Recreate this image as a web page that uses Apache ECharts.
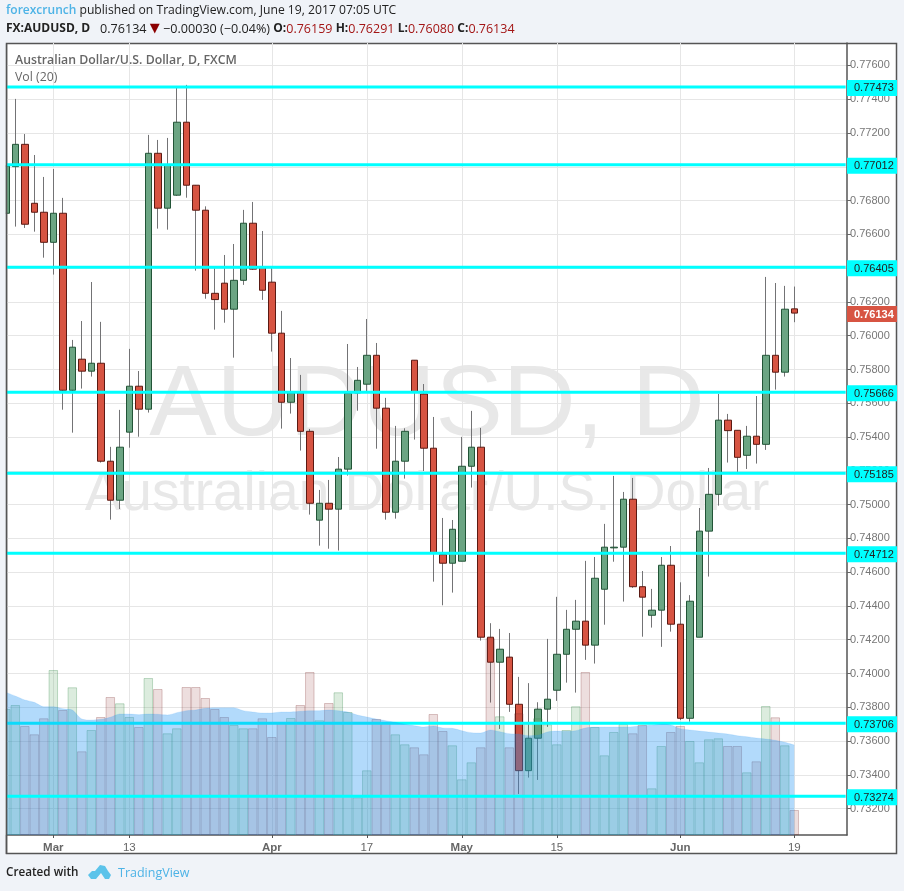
<!DOCTYPE html>
<html>
<head>
<meta charset="utf-8">
<style>html,body{margin:0;padding:0;background:#f0f3f8}#c{width:904px;height:891px}</style>
<script src="https://cdn.jsdelivr.net/npm/echarts@6/dist/echarts.min.js"></script>
</head>
<body>
<div id="c"></div>
<script>
const dates = ['Feb 22','Feb 23','Feb 24','Feb 27','Feb 28','Mar 1','Mar 2','Mar 3','Mar 6','Mar 7','Mar 8','Mar 9','Mar 10','Mar 13','Mar 14','Mar 15','Mar 16','Mar 17','Mar 20','Mar 21','Mar 22','Mar 23','Mar 24','Mar 27','Mar 28','Mar 29','Mar 30','Mar 31','Apr 3','Apr 4','Apr 5','Apr 6','Apr 7','Apr 10','Apr 11','Apr 12','Apr 13','Apr 14','Apr 17','Apr 18','Apr 19','Apr 20','Apr 21','Apr 24','Apr 25','Apr 26','Apr 27','Apr 28','May 1','May 2','May 3','May 4','May 5','May 8','May 9','May 10','May 11','May 12','May 15','May 16','May 17','May 18','May 19','May 22','May 23','May 24','May 25','May 26','May 29','May 30','May 31','Jun 1','Jun 2','Jun 5','Jun 6','Jun 7','Jun 8','Jun 9','Jun 12','Jun 13','Jun 14','Jun 15','Jun 16','Jun 19'];
const opens = [.76725,.77001,.77133,.76784,.76731,.76553,.76725,.75677,.75861,.7579,.75837,.75257,.75026,.75429,.75701,.75565,.7708,.76755,.76832,.77264,.76891,.76743,.76251,.76311,.76157,.76328,.76666,.76407,.76317,.76015,.75606,.75661,.75434,.74908,.75008,.74973,.7521,.75661,.75713,.75884,.75571,.74955,.75257,.75855,.75655,.75334,.74704,.74653,.74665,.75227,.7534,.74215,.74067,.74097,.73818,.73425,.73617,.73789,.73901,.74114,.74262,.7431,.74168,.74499,.74744,.74748,.75032,.74514,.74345,.74375,.74641,.74292,.73735,.74215,.74843,.75061,.755,.7544,.75292,.75405,.75357,.75884,.75784,.76159];
const closes = [.77005,.77133,.7666,.76731,.76553,.76725,.75677,.75932,.7579,.75837,.75257,.75026,.7534,.75701,.75565,.7708,.76755,.77011,.77264,.76891,.76743,.76251,.76214,.76157,.76328,.76666,.76394,.76269,.76015,.75606,.75661,.75434,.75008,.75008,.74973,.7521,.75659,.75736,.75884,.75571,.74955,.75257,.75434,.75665,.75334,.74712,.74653,.74854,.75227,.7534,.74215,.74067,.74144,.73818,.73425,.73617,.73789,.73848,.74114,.74262,.7431,.74168,.74564,.74748,.74748,.75032,.74514,.74452,.74375,.74641,.74292,.73735,.74428,.74843,.75061,.755,.75438,.7528,.75405,.75357,.75884,.75784,.76157,.76134];
const highs = [.7704,.77402,.77194,.7707,.7694,.76987,.76816,.75975,.76087,.76318,.76082,.75342,.75561,.75922,.75791,.77189,.77159,.77171,.77467,.77485,.76891,.76766,.76399,.76478,.76543,.76745,.76792,.7662,.76407,.76147,.75868,.75768,.75448,.75087,.75146,.75282,.75951,.75815,.76099,.75957,.75632,.75466,.75452,.75855,.75714,.75519,.74921,.74909,.75401,.75555,.75454,.74298,.74264,.7424,.7398,.73943,.7383,.74205,.74454,.74377,.74436,.74667,.7469,.74886,.7517,.75075,.75158,.74607,.74501,.7469,.74755,.7454,.74464,.7498,.75217,.75655,.75537,.7544,.75466,.75643,.76348,.76312,.76295,.76291];
const lows = [.76656,.76646,.76638,.76616,.76462,.76362,.75562,.75426,.75687,.75758,.75249,.74911,.74974,.75337,.75402,.75545,.76634,.76628,.76828,.76817,.76385,.76219,.76036,.76077,.7587,.76301,.7639,.76212,.75906,.7545,.75539,.7532,.74941,.74757,.74739,.74728,.75172,.75556,.75667,.75331,.74911,.74917,.75154,.75385,.75199,.74544,.74404,.74479,.74665,.75101,.74195,.73828,.73672,.73773,.73287,.73384,.7337,.73684,.73838,.73946,.73887,.74081,.74059,.74289,.74662,.74426,.74507,.74218,.74272,.74158,.74248,.73725,.73715,.74215,.74574,.74994,.75249,.75194,.75211,.75243,.75324,.75681,.75758,.7608];
const volumes = [126,130,109,100.7,116.7,165,125,147.7,83.7,105,118,138,131.7,118,108,157,146,101.7,106.7,148,148,137,126,118,110,106.7,106.7,116.7,98,113,117,130,163,114.7,132,142.7,123,37.7,64.7,116,113,100.7,90.7,87.7,80.7,121,104,89.7,55.7,72.7,87.7,196.7,118.7,87.7,121.7,113,116.7,110.7,90.7,105,128.7,163,108,79.7,103,111,101.7,110,46.7,89,103,109,94,72.7,95.7,96.7,89,89,62.7,73.7,129,117.7,89.7,25];
const volumeMA = [142.7,139,135,132.7,128.3,128.3,126.3,125,116,115,115.7,117.7,121,121,120.3,121,120.7,120,122.3,124.3,125,126.7,127.3,127.3,127.3,124.3,123,122,122,123,123,123.7,124.3,124.3,125,124.3,123,120,118,116,114.3,112.7,110.7,109.3,108,109,107,106.7,104.3,102.3,102,105,103.3,101.3,101,99.3,99.7,103,104,103.7,104.3,107,108,108,108,108,108.3,109.3,109.7,110.7,110,106.3,105,104,103,102,101,99.3,98.3,97,96,94.7,92.7,90];
const levels = [.77473,.77012,.76405,.75666,.75185,.74712,.73706,.73274];
const lastPrice = .76134;
const priceTicks = [.776,.774,.772,.77,.768,.766,.764,.762,.76,.758,.756,.754,.752,.75,.748,.746,.744,.742,.74,.738,.736,.734,.732];
const tickDates = ['Mar 1','Mar 13','Apr 3','Apr 17','May 1','May 15','Jun 1','Jun 19'];
const tickLabels = ['Mar','13','Apr','17','May','15','Jun','19'];

const tickIdx = tickDates.map(d => dates.indexOf(d));
const xMin = 0.126, xMax = 88.55, lineEnd = 88.41;
const UP = '#6ba583', UPB = '#225437', DN = '#d75442', DNB = '#5b1a13', WICK = '#737375';
const FONT = '"Open Sans", sans-serif';

const wicks = dates.map((d, i) => [i, opens[i], closes[i], lows[i], highs[i]]);
const bodies = dates.map((d, i) => [i, opens[i], closes[i], Math.min(opens[i], closes[i]), Math.max(opens[i], closes[i])]);
const volData = dates.map((d, i) => {
  const up = closes[i] >= opens[i];
  return { value: [i, volumes[i]], itemStyle: {
    color: up ? 'rgba(80,160,90,0.2)' : 'rgba(150,60,60,0.17)',
    borderColor: up ? 'rgba(60,140,80,0.3)' : 'rgba(120,40,40,0.26)', borderWidth: 1 } };
});
const levelSeries = (lv, z) => ({
  type: 'line', xAxisIndex: 0, yAxisIndex: 0, z, symbol: 'none', silent: true, animation: false,
  lineStyle: { color: '#00ffff', width: 3 }, data: [[xMin, lv], [lineEnd, lv]]
});

const chart = echarts.init(document.getElementById('c'), null, { renderer: 'canvas', width: 904, height: 891 });
chart.setOption({
  animation: false,
  backgroundColor: 'transparent',
  grid: { left: 7, right: 57, top: 43, height: 792, show: false, containLabel: false },
  xAxis: [{
    type: 'value', min: xMin, max: xMax,
    axisLine: { show: true, onZero: false, lineStyle: { color: '#555', width: 1.5 } },
    axisTick: { show: true, customValues: tickIdx, length: 3, lineStyle: { color: '#555' } },
    splitLine: { show: true, lineStyle: { color: '#e6e6e6', width: 1 } },
    axisLabel: {
      customValues: tickIdx, margin: 7, fontFamily: 'Liberation Sans', fontSize: 11,
      formatter: v => { const s = tickLabels[tickIdx.indexOf(v)]; return isNaN(+s) ? '{m|' + s + '}' : '{d|' + s + '}'; },
      rich: { m: { fontWeight: 'bold', color: '#666', fontSize: 11.5, fontFamily: 'Liberation Sans' }, d: { color: '#666', fontSize: 11.5, fontFamily: 'Liberation Sans' } }
    }
  }],
  yAxis: [{
    type: 'value', position: 'right', min: .73044, max: .77733,
    axisLine: { show: true, onZero: false, lineStyle: { color: '#555', width: 1.5 } },
    axisTick: { show: true, customValues: priceTicks, length: 4, lineStyle: { color: '#666' } },
    splitLine: { show: true, lineStyle: { color: '#e6e6e6', width: 1 } },
    axisLabel: { customValues: priceTicks, margin: 3, padding: [2, 0, 0, 0], color: '#777', fontFamily: 'Liberation Sans', fontSize: 11, formatter: v => v.toFixed(5) }
  }, {
    type: 'value', position: 'right', min: .73044, max: .77733, z: 6,
    axisLine: { show: false }, axisTick: { show: false }, splitLine: { show: false },
    axisLabel: {
      customValues: levels.concat([lastPrice]), margin: 0, padding: [2, 0, 0, 0], fontFamily: 'Liberation Sans',
      formatter: v => (v === lastPrice ? '{c|' : '{h|') + v.toFixed(5) + '}',
      rich: {
        h: { backgroundColor: '#00ffff', color: '#222', fontSize: 11, fontFamily: 'Liberation Sans', padding: [3, 3, 2, 7], width: 40 },
        c: { backgroundColor: '#d75442', color: '#fff', fontWeight: 'bold', fontSize: 11, fontFamily: 'Liberation Sans', padding: [3, 3, 2, 7], width: 40 }
      }
    }
  }, {
    type: 'value', position: 'right', min: 0, max: 792, show: false, splitLine: { show: false }
  }],
  series: [
    { type: 'candlestick', z: 2, xAxisIndex: 0, yAxisIndex: 0, barWidth: 1, clip: true, silent: true,
      itemStyle: { color: WICK, color0: WICK, borderColor: WICK, borderColor0: WICK, borderWidth: 1 }, data: wicks },
    { type: 'candlestick', z: 3, xAxisIndex: 0, yAxisIndex: 0, barWidth: 7, clip: true, silent: true,
      itemStyle: { color: UP, color0: DN, borderColor: UPB, borderColor0: DNB, borderWidth: 1 }, data: bodies },
    { type: 'bar', z: 4, xAxisIndex: 0, yAxisIndex: 2, barWidth: 9.5, clip: true, silent: true, data: volData },
    ...levels.slice(0, 7).map(l => levelSeries(l, 5)),
    { type: 'line', z: 6, xAxisIndex: 0, yAxisIndex: 2, symbol: 'none', smooth: 0.3, silent: true, clip: true,
      lineStyle: { color: 'rgba(33,150,243,0.12)', width: 1 },
      areaStyle: { color: 'rgba(33,150,243,0.35)', opacity: 1, origin: 'start' },
      data: dates.map((d, i) => [i, volumeMA[i]]) },
    levelSeries(levels[7], 7)
  ],
  graphic: [
    { type: 'rect', z: -3, silent: true, shape: { x: 6.5, y: 43.5, width: 890, height: 810 }, style: { fill: '#fff', stroke: '#555', lineWidth: 1.5 } },
    { type: 'text', z: -2, silent: true, x: 427, y: 407, style: { text: 'AUDUSD, D', font: '101px "Liberation Sans"', fill: '#e8e8e8', align: 'center', verticalAlign: 'middle' } },
    { type: 'text', z: -2, silent: true, x: 427, y: 495, style: { text: 'Australian Dollar/U.S. Dollar', font: '55px "Liberation Sans"', fill: '#e8e8e8', align: 'center', verticalAlign: 'middle' } },
    { type: 'rect', z: 8, silent: true, shape: { x: 0, y: 44, width: 5.75, height: 791 }, style: { fill: '#f0f3f8' } },
    { type: 'rect', z: 8, silent: true, shape: { x: 5.75, y: 44, width: 1.5, height: 810 }, style: { fill: '#555' } },
    { type: 'text', z: 20, silent: true, x: 15, y: 60.5, style: { text: 'Australian Dollar/U.S. Dollar, D, FXCM', font: '600 12.3px ' + FONT, fill: '#666', verticalAlign: 'middle' } },
    { type: 'text', z: 20, silent: true, x: 15, y: 77.5, style: { text: 'Vol (20)', font: '12.3px ' + FONT, fill: '#666', verticalAlign: 'middle' } },
    { type: 'text', z: 20, silent: true, x: 6, y: 11, style: {
      text: '{b|forexcrunch}{k| published on TradingView.com, June 19, 2017 07:05 UTC}', verticalAlign: 'middle',
      rich: { b: { font: '600 12px ' + FONT, fill: '#4db3e6' }, k: { font: '12.15px ' + FONT, fill: '#222' } } } },
    { type: 'text', z: 20, silent: true, x: 6, y: 29, style: {
      text: '{k|FX:AUDUSD, D}{n|   0.76134 }{t|▼}{n| −0.00030 (−0.04%) }{k|O:}{r|0.76159 }{k|H:}{r|0.76291 }{k|L:}{r|0.76080 }{k|C:}{r|0.76134}', verticalAlign: 'middle',
      rich: {
        k: { font: '700 12px ' + FONT, fill: '#222' }, n: { font: '12.6px ' + FONT, fill: '#222' },
        r: { font: '12.5px ' + FONT, fill: '#a31515' }, t: { font: '13px "DejaVu Sans"', fill: '#8b0000' } } } },
    { type: 'text', z: 20, silent: true, x: 6, y: 873, style: { text: 'Created with', font: '600 11.7px ' + FONT, fill: '#222', verticalAlign: 'middle' } },
    { type: 'text', z: 20, silent: true, x: 118, y: 873, style: { text: 'TradingView', font: '12.5px ' + FONT, fill: '#4db3e6', verticalAlign: 'middle' } },
    { type: 'polygon', z: 20, silent: true, shape: { points: [[88,875],[92,871],[95,871],[100,865],[105,866],[108,871],[111,875],[109,879],[105,879],[101,873],[96,879],[91,879]] }, style: { fill: '#5cc3ea' } }
  ]
});
</script>
</body>
</html>
